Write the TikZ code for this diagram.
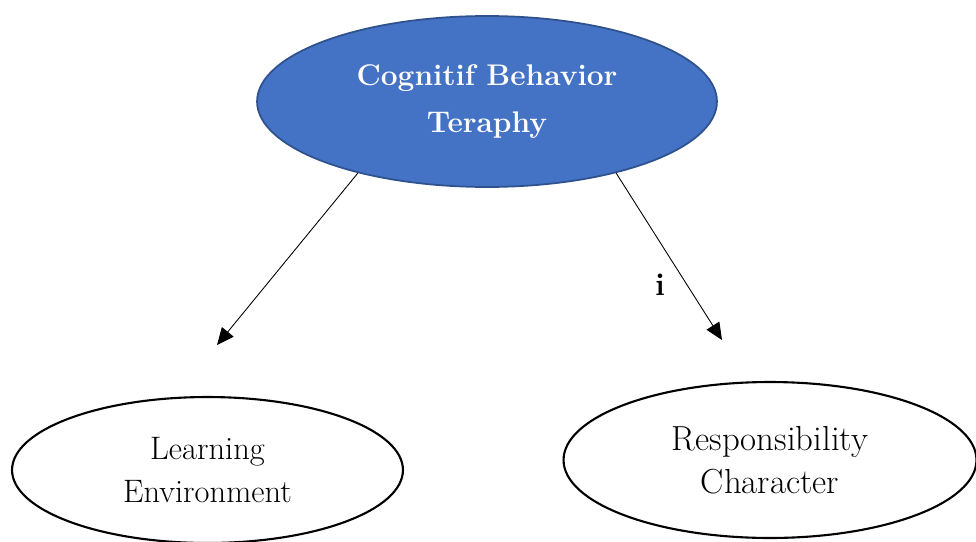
\documentclass[tikz,border=0pt]{standalone}
\usepackage{xcolor}
\usepackage{tikz}
\usetikzlibrary{arrows.meta,positioning,shapes.geometric,calc}

\definecolor{cbtfill}{HTML}{4472C4}
\definecolor{cbtdraw}{HTML}{2F528F}

\begin{document}
\begin{tikzpicture}[
  x=0.02cm, y=-0.02cm,
  oval/.style={ellipse, draw=black, line width=1.2pt, inner sep=0pt,
               align=center, font=\fontsize{18.5}{24.5}\selectfont},
  core/.style={oval, fill=cbtfill, draw=cbtdraw, line width=1pt,
               text=white, font=\fontsize{17}{26.7}\selectfont\bfseries},
  arr/.style={-{Triangle[length=3.4mm, width=3mm]}, line width=0.5pt},
  lbl/.style={font=\fontsize{18}{20}\selectfont\bfseries},
]
\useasboundingbox (0,0) rectangle (976,541);
\clip (0,0) rectangle (976,541);

% main nodes
\node[core, minimum width=9.2cm, minimum height=3.42cm] (cbt) at (487,101.5)
  {Cognitif Behavior\\Teraphy};
\node[oval, minimum width=7.82cm, minimum height=2.92cm] (learn) at (207.5,470)
  {Learning\\Environment};
\node[oval, minimum width=8.26cm, minimum height=3.12cm,
      font=\fontsize{19.8}{24.5}\selectfont] (resp) at (770,460)
  {Responsibility\\Character};

% arrow ends (they stop short of the lower ovals)
\coordinate (learnin) at (217,345);
\coordinate (respin) at (722,340);

\draw[arr] (cbt.209) -- (learnin);
\draw[arr] (cbt.331) -- node[lbl, pos=0.67, left=9pt] (mark) {i} (respin);
\end{tikzpicture}
\end{document}
